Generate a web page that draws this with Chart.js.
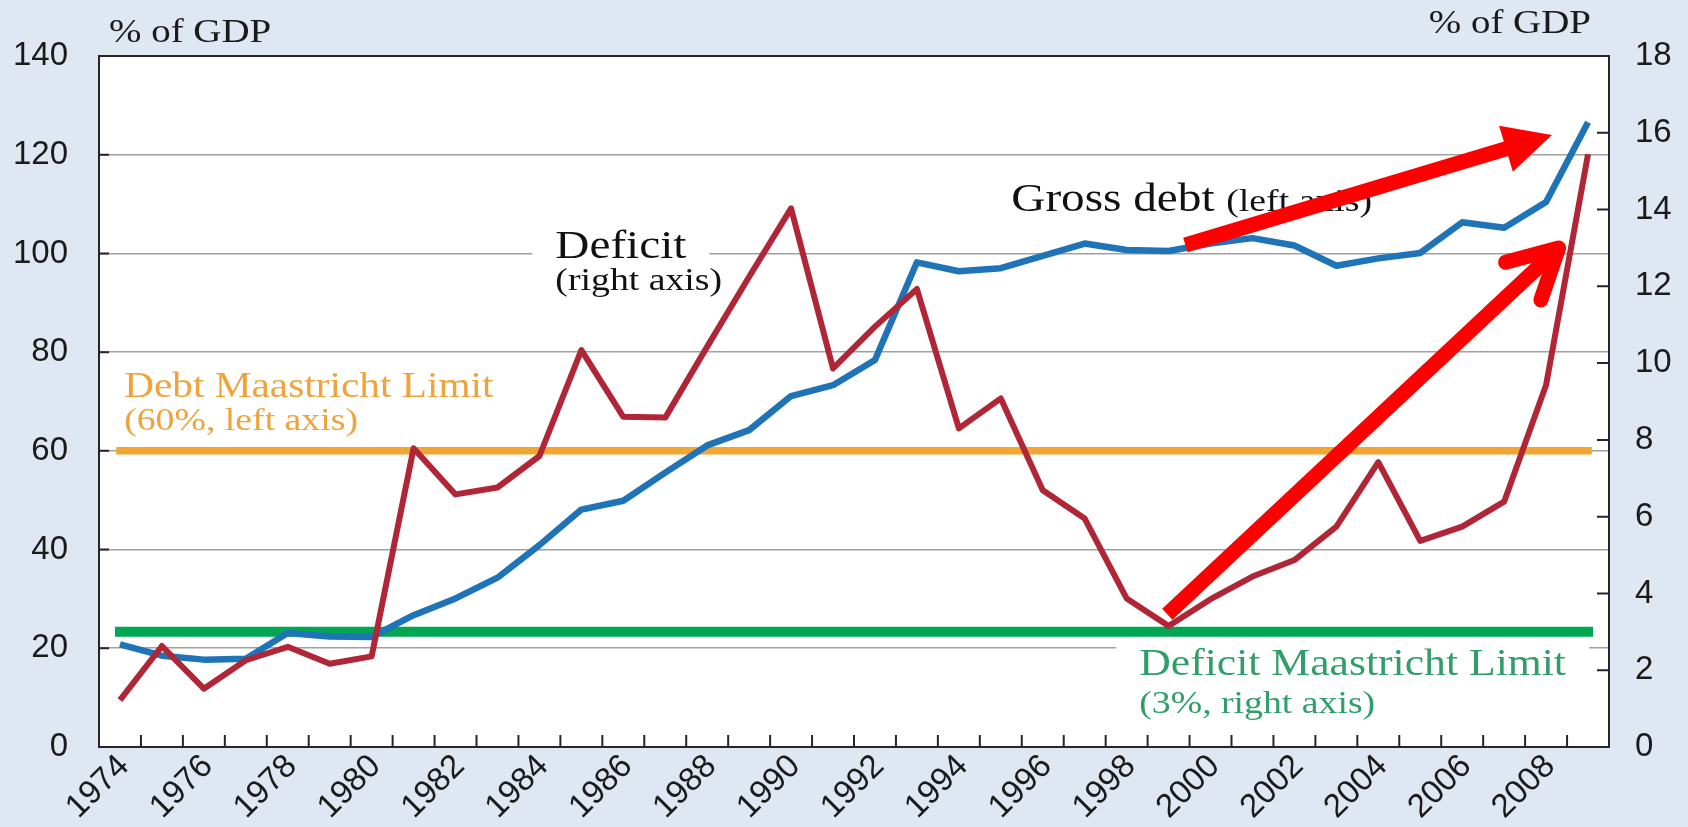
<!DOCTYPE html>
<html>
<head>
<meta charset="utf-8">
<title>Gross debt and deficit, % of GDP</title>
<script src="https://cdn.jsdelivr.net/npm/chart.js@4.4.1/dist/chart.umd.min.js"></script>
<style>
    html, body { margin: 0; padding: 0; background: #dfe7f2; }
    canvas { display: block; }
</style>
</head>
<body>
<canvas id="debt-chart" width="1688" height="827"></canvas>
<script>
// Years on the category axis
const years = ['1974', '1975', '1976', '1977', '1978', '1979', '1980', '1981', '1982', '1983',
               '1984', '1985', '1986', '1987', '1988', '1989', '1990', '1991', '1992', '1993',
               '1994', '1995', '1996', '1997', '1998', '1999', '2000', '2001', '2002', '2003',
               '2004', '2005', '2006', '2007', '2008', '2009'];

// Gross debt, % of GDP (left axis)
const grossDebt = [20.8, 18.5, 17.7, 17.9, 23.1, 22.4, 22.3, 26.7, 30.1, 34.3,
                   40.9, 48.1, 49.9, 55.6, 61.1, 64.2, 71.1, 73.3, 78.4, 98.2,
                   96.4, 97.0, 99.5, 102.0, 100.7, 100.5, 102.0, 103.1, 101.6, 97.5,
                   99.0, 100.1, 106.3, 105.2, 110.4, 126.6];

// Deficit, % of GDP (right axis)
const deficit = [1.22, 2.63, 1.52, 2.26, 2.61, 2.17, 2.36, 7.78, 6.58, 6.76,
                 7.58, 10.34, 8.60, 8.58, 10.43, 12.25, 14.03, 9.86, 10.95, 11.93,
                 8.30, 9.08, 6.69, 5.95, 3.87, 3.15, 3.85, 4.44, 4.87, 5.74,
                 7.42, 5.37, 5.74, 6.39, 9.43, 15.44];

// Maastricht limits
const debtLimit = 60;     // left axis
const deficitLimit = 3;   // right axis

// Axis ranges and steps
const leftAxis = { min: 0, max: 140, step: 20 };
const rightAxis = { min: 0, max: 18, step: 2 };

const PAGE_BG = '#dfe7f2';
const INK = '#1a1a1a';
const FRAME = '#262626';
const SERIF = "'Liberation Serif', 'Times New Roman', serif";
const SANS = "'Liberation Sans', Arial, sans-serif";
const TEXT_SX = 1.18; // serif captions are set a little wide

// Captions inside the plot, positioned in data space (category index, left axis value)
const notes = [
    { x: 10.38, y: 99.0, color: '#111111', box: true, gap: 32,
      lines: [['Deficit', 40], ['(right axis)', 32]] },
    { x: 0.10, y: 70.9, color: '#eea43a', box: false, gap: 33,
      lines: [['Debt Maastricht Limit', 35], ['(60%, left axis)', 32]] },
    { x: 24.3, y: 14.5, color: '#2f9e68', box: true, gap: 38,
      lines: [['Deficit Maastricht Limit', 37], ['(3%, right axis)', 32]] }
];

// Red arrows: from/to in data space, axis tells which y scale
const arrows = [
    { axis: 'y', from: [25.40, 101.7], to: [34.14, 124.0], head: 'solid' },
    { axis: 'y1', from: [24.97, 3.46], to: [34.30, 13.0], head: 'open' }
];

function wideText(ctx, str, x, y, size, color, align) {
    ctx.save();
    ctx.font = size + 'px ' + SERIF;
    ctx.fillStyle = color;
    ctx.textBaseline = 'alphabetic';
    ctx.textAlign = 'left';
    const w = ctx.measureText(str).width * TEXT_SX;
    const left = align === 'right' ? x - w : x;
    ctx.translate(left, y);
    ctx.scale(TEXT_SX, 1);
    ctx.fillText(str, 0, 0);
    ctx.restore();
    return w;
}

function textWidth(ctx, str, size) {
    ctx.save();
    ctx.font = size + 'px ' + SERIF;
    const w = ctx.measureText(str).width * TEXT_SX;
    ctx.restore();
    return w;
}

function drawArrow(ctx, x0, y0, x1, y1, head) {
    const ang = Math.atan2(y1 - y0, x1 - x0);
    ctx.save();
    ctx.strokeStyle = '#ff0000';
    ctx.fillStyle = '#ff0000';
    ctx.lineWidth = 15;
    if (head === 'solid') {
        const len = 48, half = 24;
        const bx = x1 - len * Math.cos(ang), by = y1 - len * Math.sin(ang);
        ctx.lineCap = 'butt';
        ctx.beginPath();
        ctx.moveTo(x0, y0);
        ctx.lineTo(bx + 2 * Math.cos(ang), by + 2 * Math.sin(ang));
        ctx.stroke();
        ctx.beginPath();
        ctx.moveTo(x1, y1);
        ctx.lineTo(bx + half * Math.sin(ang), by - half * Math.cos(ang));
        ctx.lineTo(bx - half * Math.sin(ang), by + half * Math.cos(ang));
        ctx.closePath();
        ctx.fill();
    } else {
        ctx.lineCap = 'butt';
        ctx.beginPath();
        ctx.moveTo(x0, y0);
        ctx.lineTo(x1, y1);
        ctx.stroke();
        const arm = 55, spread = 28 * Math.PI / 180;
        const back = ang + Math.PI;
        ctx.lineCap = 'round';
        ctx.lineJoin = 'round';
        ctx.beginPath();
        ctx.moveTo(x1 + arm * Math.cos(back + spread), y1 + arm * Math.sin(back + spread));
        ctx.lineTo(x1, y1);
        ctx.lineTo(x1 + arm * Math.cos(back - spread), y1 + arm * Math.sin(back - spread));
        ctx.stroke();
    }
    ctx.restore();
}

const chartDecor = {
    id: 'chartDecor',
    beforeDraw(chart) {
        const { ctx, chartArea: a } = chart;
        ctx.save();
        ctx.fillStyle = PAGE_BG;
        ctx.fillRect(0, 0, chart.width, chart.height);
        ctx.fillStyle = '#ffffff';
        ctx.fillRect(a.left, a.top, a.right - a.left, a.bottom - a.top);
        ctx.restore();
    },
    beforeDatasetsDraw(chart) {
        const { ctx, chartArea: a, scales } = chart;
        const xs = scales.x, ys = scales.y, ys1 = scales.y1;

        // white boxes behind captions break the grid lines
        notes.forEach(n => {
            const x = xs.getPixelForValue(n.x);
            const y = ys.getPixelForValue(n.y);
            if (n.box) {
                const w = textWidth(ctx, n.lines[0][0], n.lines[0][1]);
                const top = y - n.lines[0][1] * 0.8;
                const bottom = y + n.gap * (n.lines.length - 1) + 10;
                ctx.fillStyle = '#ffffff';
                ctx.fillRect(x - 23, top, w + 46, bottom - top);
            }
            n.lines.forEach((ln, i) => {
                wideText(ctx, ln[0], x, y + i * n.gap, ln[1], n.color, 'left');
            });
        });

        // gross debt caption mixes two sizes on one line
        const gx = xs.getPixelForValue(21.25);
        const gy = ys.getPixelForValue(108.5);
        const gw = wideText(ctx, 'Gross debt ', gx, gy, 40, '#111111', 'left');
        wideText(ctx, '(left axis)', gx + gw, gy, 32, '#111111', 'left');

        // axis unit captions
        wideText(ctx, '% of GDP', a.left + 10, a.top - 14, 33, INK, 'left');
        wideText(ctx, '% of GDP', a.right - 18, a.top - 23, 33, INK, 'right');

        // frame
        ctx.save();
        ctx.strokeStyle = FRAME;
        ctx.lineWidth = 2;
        ctx.strokeRect(a.left, a.top, a.right - a.left, a.bottom - a.top);

        // inward tick marks
        ctx.lineWidth = 2;
        ctx.beginPath();
        ys.ticks.forEach(t => {
            const y = ys.getPixelForValue(t.value);
            ctx.moveTo(a.left, y);
            ctx.lineTo(a.left + 10, y);
        });
        ys1.ticks.forEach(t => {
            const y = ys1.getPixelForValue(t.value);
            ctx.moveTo(a.right, y);
            ctx.lineTo(a.right - 12, y);
        });
        for (let i = 0; i < years.length - 1; i++) {
            const x = xs.getPixelForValue(i + 0.5);
            ctx.moveTo(x, a.bottom);
            ctx.lineTo(x, a.bottom - 12);
        }
        ctx.stroke();
        ctx.restore();
    },
    afterDatasetsDraw(chart) {
        const { ctx, scales } = chart;
        arrows.forEach(ar => {
            const ys = scales[ar.axis];
            drawArrow(ctx,
                scales.x.getPixelForValue(ar.from[0]), ys.getPixelForValue(ar.from[1]),
                scales.x.getPixelForValue(ar.to[0]), ys.getPixelForValue(ar.to[1]),
                ar.head);
        });
    }
};

Chart.defaults.font.family = SANS;
Chart.defaults.color = INK;

const lineStyle = { pointRadius: 0, tension: 0, borderJoinStyle: 'round', fill: false };

const ctx = document.getElementById('debt-chart');
new Chart(ctx, {
    type: 'line',
    data: {
        labels: years,
        datasets: [
            Object.assign({ label: 'Deficit', data: deficit, yAxisID: 'y1',
                borderColor: '#b02636', borderWidth: 6 }, lineStyle),
            Object.assign({ label: 'Gross debt', data: grossDebt, yAxisID: 'y',
                borderColor: '#1f74b8', borderWidth: 6.5 }, lineStyle),
            Object.assign({ label: 'Deficit Maastricht Limit', yAxisID: 'y1',
                data: [{ x: years[0], y: deficitLimit }, { x: years[years.length - 1], y: deficitLimit }],
                borderColor: '#00a651', borderWidth: 10, borderCapStyle: 'square' }, lineStyle),
            Object.assign({ label: 'Debt Maastricht Limit', yAxisID: 'y',
                data: [{ x: years[0], y: debtLimit }, { x: years[years.length - 1], y: debtLimit }],
                borderColor: '#f2a531', borderWidth: 7.5, borderCapStyle: 'square' }, lineStyle)
        ]
    },
    options: {
        responsive: false,
        animation: false,
        layout: { padding: { top: 56, left: 0, right: 0, bottom: 0 } },
        plugins: {
            legend: { display: false },
            tooltip: { enabled: false }
        },
        scales: {
            x: {
                type: 'category',
                offset: true,
                grid: { display: false, offset: true, drawTicks: false },
                border: { display: false },
                ticks: {
                    autoSkip: false,
                    minRotation: 45,
                    maxRotation: 45,
                    padding: 0,
                    labelOffset: 4,
                    color: INK,
                    font: { size: 33 },
                    callback: function(value, index) {
                        return index % 2 === 0 ? this.getLabelForValue(value) : '';
                    }
                },
                afterFit: s => { s.height = 80; }
            },
            y: {
                position: 'left',
                min: leftAxis.min,
                max: leftAxis.max,
                grid: { color: '#a0a0a0', lineWidth: 1.6, drawTicks: false },
                border: { display: false },
                ticks: { stepSize: leftAxis.step, padding: 31, color: INK, font: { size: 33 } },
                afterFit: s => { s.width = 99; }
            },
            y1: {
                position: 'right',
                min: rightAxis.min,
                max: rightAxis.max,
                grid: { display: false, drawTicks: false },
                border: { display: false },
                ticks: { stepSize: rightAxis.step, padding: 26, color: INK, font: { size: 33 } },
                afterFit: s => { s.width = 79; }
            }
        }
    },
    plugins: [chartDecor]
});
</script>
</body>
</html>
